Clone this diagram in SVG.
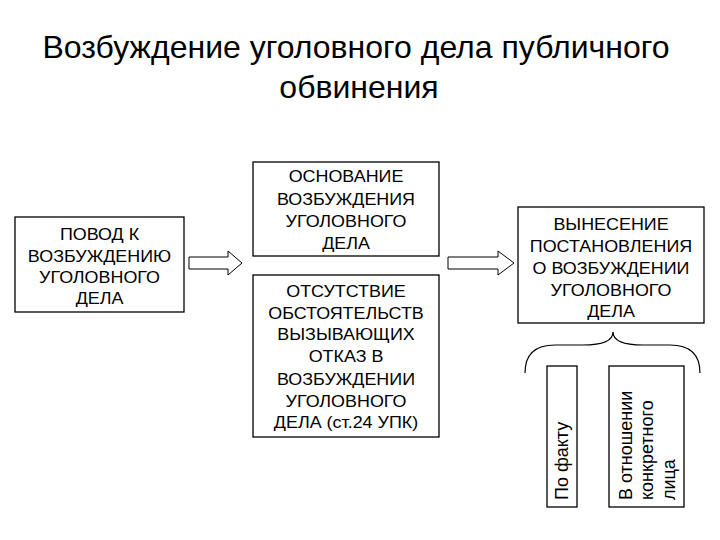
<svg xmlns="http://www.w3.org/2000/svg" width="720" height="540" viewBox="0 0 720 540">
<style>
.bg{fill:#ffffff}
.box{fill:#ffffff;stroke:#000000;stroke-width:1.3}
.arr{fill:#ffffff;stroke:#000000;stroke-width:1}
.br{fill:none;stroke:#000000;stroke-width:1.2}
text{font-family:"Liberation Sans",Arial,sans-serif;fill:#000000}
.t{font-size:32px;text-anchor:middle}
.b{font-size:16px;text-anchor:middle}
.v{font-size:18px;text-anchor:start}
</style>
<rect class="bg" x="0" y="0" width="720" height="540"/>
<g id="title">
<text class="t" x="356" y="58">Возбуждение уголовного дела публичного</text>
<text class="t" x="359" y="98">обвинения</text>
</g>
<g id="connectors">
<polygon class="arr" points="189,257 228,257 228,251 242,263 228,275 228,269 189,269"/>
<polygon class="arr" points="448,257 498,257 498,251 514,263 498,275 498,269 448,269"/>
<path class="br" d="M525,373 Q525,345 555,345 L583,345 Q613,345 613,332 Q613,345 643,345 L670,345 Q700,345 700,373"/>
</g>
<g id="povod">
<rect class="box" x="15" y="217" width="169" height="95"/>
<g transform="translate(99.5,0) scale(1.12,1)">
<text class="b" x="0" y="240">ПОВОД К</text>
<text class="b" x="0" y="262">ВОЗБУЖДЕНИЮ</text>
<text class="b" x="0" y="283">УГОЛОВНОГО</text>
<text class="b" x="0" y="304">ДЕЛА</text>
</g>
</g>
<g id="osnovanie">
<rect class="box" x="253" y="162" width="186" height="94"/>
<g transform="translate(346,0) scale(1.12,1)">
<text class="b" x="0" y="182">ОСНОВАНИЕ</text>
<text class="b" x="0" y="205">ВОЗБУЖДЕНИЯ</text>
<text class="b" x="0" y="227">УГОЛОВНОГО</text>
<text class="b" x="0" y="249">ДЕЛА</text>
</g>
</g>
<g id="otsutstvie">
<rect class="box" x="253" y="275" width="186" height="162"/>
<g transform="translate(346,0) scale(1.12,1)">
<text class="b" x="0" y="297">ОТСУТСТВИЕ</text>
<text class="b" x="0" y="319">ОБСТОЯТЕЛЬСТВ</text>
<text class="b" x="0" y="340">ВЫЗЫВАЮЩИХ</text>
<text class="b" x="0" y="362">ОТКАЗ В</text>
<text class="b" x="0" y="385">ВОЗБУЖДЕНИИ</text>
<text class="b" x="0" y="407">УГОЛОВНОГО</text>
<text class="b" x="0" y="428">ДЕЛА (ст.24 УПК)</text>
</g>
</g>
<g id="vynesenie">
<rect class="box" x="518" y="207" width="186" height="116"/>
<g transform="translate(611,0) scale(1.12,1)">
<text class="b" x="0" y="230">ВЫНЕСЕНИЕ</text>
<text class="b" x="0" y="252">ПОСТАНОВЛЕНИЯ</text>
<text class="b" x="0" y="274">О ВОЗБУЖДЕНИИ</text>
<text class="b" x="0" y="296">УГОЛОВНОГО</text>
<text class="b" x="0" y="317">ДЕЛА</text>
</g>
</g>
<g id="po-faktu">
<rect class="box" x="547" y="366" width="30" height="141"/>
<text class="v" transform="translate(568,500) rotate(-90)">По факту</text>
</g>
<g id="v-otnoshenii">
<rect class="box" x="609" y="366" width="75" height="141"/>
<text class="v" transform="translate(632,500) rotate(-90)">В отношении</text>
<text class="v" transform="translate(653,500) rotate(-90)">конкретного</text>
<text class="v" transform="translate(675,500) rotate(-90)">лица</text>
</g>
</svg>
